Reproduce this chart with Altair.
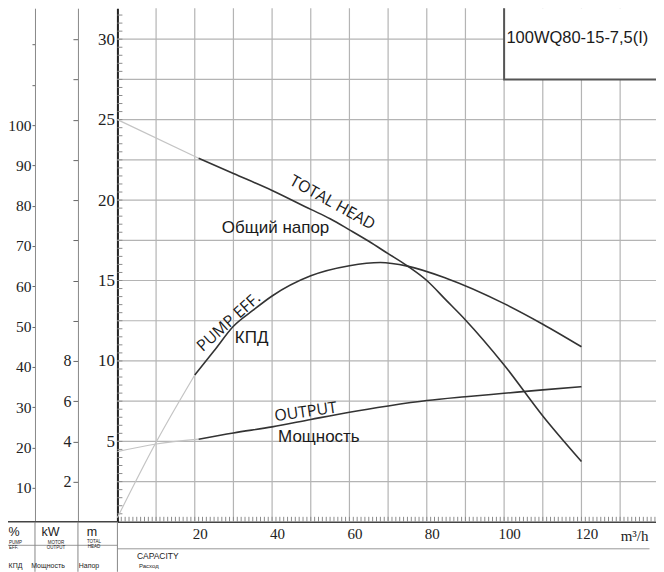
import altair as alt
import pandas as pd

# ---------------- data ----------------
# capacity Q (m3/h) and total head H (m)
head_q_faded = [0, 21]
head_m_faded = [25.0, 22.6]
head_q = [21, 30, 40, 50, 55, 60, 65, 70, 75, 80, 85, 90, 100, 110, 120]
head_m = [22.6, 21.65, 20.6, 19.42, 18.84, 18.15, 17.44, 16.67, 15.9, 15.0,
          13.78, 12.55, 9.75, 6.58, 3.75]

# pump efficiency (%)
eff_q_faded = [0, 10, 20]
eff_faded = [2.6, 21.3, 38.0]
eff_q = [20, 25, 30, 35, 40, 50, 60, 68, 75, 85, 100, 110, 120]
eff_pct = [38.0, 44.0, 50.1, 54.0, 57.6, 62.6, 65.1, 65.9, 65.0, 62.0, 55.7, 50.6, 45.0]

# motor output (kW)
out_q_faded = [0, 10, 21]
out_faded = [3.49, 3.87, 4.11]
out_q = [21, 30, 40, 50, 60, 70, 80, 90, 100, 110, 120]
out_kw = [4.11, 4.42, 4.72, 5.09, 5.45, 5.76, 6.03, 6.22, 6.39, 6.56, 6.72]

# ticks, grid and tick labels
x_grid_values = [10, 20, 30, 40, 50, 60, 70, 80, 90, 100, 110, 120, 130]
x_label_values = [20, 40, 60, 80, 100, 120]
x_minor_values = list(range(1, 140))
unit_label = "m³/h"
m_grid_values = [2.5, 5, 7.5, 10, 12.5, 15, 17.5, 20, 22.5, 25, 27.5, 30]
m_label_values = [5, 10, 15, 20, 25, 30]
m_minor_values = [0.5 * i for i in range(1, 64)]
pct_tick_values = [10, 20, 30, 40, 50, 60, 70, 80, 90, 100, 110, 120]
pct_label_max = 100
kw_tick_values = [2, 4, 6, 8, 10, 12, 14, 16, 18, 20, 22, 24]
kw_label_max = 8

# curve labels
eng_text = ["TOTAL HEAD", "PUMP EFF.", "OUTPUT"]
eng_q = [55.6, 28.8, 48.7]
eng_m = [19.84, 12.42, 6.83]
eng_angle = [29, 318, 352]

rus_text = ["Общий напор", "КПД", "Мощность"]
rus_q = [40.9, 34.7, 52.1]
rus_m = [18.24, 11.4, 5.28]

model_text = ["100WQ80-15-7,5(I)"]
model_q = [100.6]
model_m = [30.1]

box_q = [100, 150]
box_m = [27.5, 40]

# ---------------- geometry ----------------
W, H = 539, 514
Q_MAX = W / 3.87
M_MAX = H / 16.1
K_MAX = 0.8 * M_MAX
P_MIN, P_MAX = 1.56, 129.0
LEFT = 109.5

serif = "Liberation Serif"
sans = "Liberation Sans"
GRID = "#b4b4b4"
TICK = "#8c8c8c"

xs = alt.Scale(domain=[0, Q_MAX], nice=False, zero=False)


def mscale():
    return alt.Scale(domain=[0, M_MAX], nice=False, zero=False)


ps = alt.Scale(domain=[P_MIN, P_MAX], nice=False, zero=False)
ks = alt.Scale(domain=[0, K_MAX], nice=False, zero=False)


def line_df(qf, vf, qs, vs):
    return pd.DataFrame({
        "q": qf + qs,
        "v": vf + vs,
        "part": ["faded"] * len(qf) + ["solid"] * len(qs),
    })


part_color = alt.Color("part:N", scale=alt.Scale(domain=["faded", "solid"],
                                                 range=["#c4c4c4", "#333333"]), legend=None)
part_width = alt.StrokeWidth("part:N", scale=alt.Scale(domain=["faded", "solid"],
                                                       range=[1.2, 1.6]), legend=None)

# ---------------- axes ----------------
x_main = alt.Axis(orient="bottom", values=x_label_values,
                  grid=False, ticks=False, domain=True, domainColor="#444",
                  domainWidth=1.5, labelFont=serif, labelFontSize=15,
                  labelColor="#222", labelPadding=5, labelOffset=5,
                  labelOverlap=False, labelFlush=False, title=None)
y_main = alt.Axis(orient="left", values=m_label_values,
                  grid=False, ticks=False, domain=True, domainColor="#222", domainWidth=2,
                  labelFont=serif, labelFontSize=17, labelColor="#222",
                  labelPadding=3, labelOverlap=False, title=None)
pct_axis = alt.Axis(orient="left", offset=LEFT - 27, values=pct_tick_values,
                    labelExpr=f"datum.value <= {pct_label_max} ? datum.label : ''",
                    tickSize=3, tickColor="#666", domainColor="#888",
                    labelFont=serif, labelFontSize=15.5, labelColor="#222",
                    labelPadding=1, grid=False, title=None)
kw_axis = alt.Axis(orient="left", offset=LEFT - 70, values=kw_tick_values,
                   labelExpr=f"datum.value <= {kw_label_max} ? datum.label : ''",
                   tickSize=5, tickColor="#666", domainColor="#888",
                   labelFont=serif, labelFontSize=16, labelColor="#222",
                   labelPadding=2, grid=False, title=None)

# ---------------- grid and minor ticks ----------------
vgrid = alt.Chart(pd.DataFrame({"q": x_grid_values})).mark_rule(
    color=GRID, strokeWidth=1.2).encode(
    x=alt.X("q:Q", scale=xs, axis=None), y=alt.value(0), y2=alt.value(H))
hgrid = alt.Chart(pd.DataFrame({"m": m_grid_values})).mark_rule(
    color=GRID, strokeWidth=1.2).encode(
    y=alt.Y("m:Q", scale=mscale(), axis=None), x=alt.value(0), x2=alt.value(W))
xticks = alt.Chart(pd.DataFrame({"q": x_minor_values})).mark_rule(
    color=TICK, strokeWidth=1).encode(
    x=alt.X("q:Q", scale=xs, axis=None), y=alt.value(H - 5), y2=alt.value(H))
yticks = alt.Chart(pd.DataFrame({"m": m_minor_values})).mark_rule(
    color=TICK, strokeWidth=1).encode(
    y=alt.Y("m:Q", scale=mscale(), axis=None), x=alt.value(0), x2=alt.value(5))

# ---------------- layers ----------------
box = alt.Chart(pd.DataFrame({"q1": [box_q[0]], "q2": [box_q[1]],
                              "m1": [box_m[0]], "m2": [box_m[1]]})).mark_rect(
    fill="white", stroke="#555", strokeWidth=2, clip=True).encode(
    x=alt.X("q1:Q", scale=xs, axis=None), x2="q2:Q",
    y=alt.Y("m1:Q", scale=mscale(), axis=None), y2="m2:Q")

head = alt.Chart(line_df(head_q_faded, head_m_faded, head_q, head_m)).mark_line(
    interpolate="monotone").encode(
    x=alt.X("q:Q", scale=xs, axis=x_main),
    y=alt.Y("v:Q", scale=mscale(), axis=y_main),
    color=part_color, strokeWidth=part_width, detail="part:N")

eff = alt.Chart(line_df(eff_q_faded, eff_faded, eff_q, eff_pct)).mark_line(
    interpolate="monotone").encode(
    x=alt.X("q:Q", scale=xs, axis=None),
    y=alt.Y("v:Q", scale=ps, axis=pct_axis),
    color=part_color, strokeWidth=part_width, detail="part:N")

out = alt.Chart(line_df(out_q_faded, out_faded, out_q, out_kw)).mark_line(
    interpolate="monotone").encode(
    x=alt.X("q:Q", scale=xs, axis=None),
    y=alt.Y("v:Q", scale=ks, axis=kw_axis),
    color=part_color, strokeWidth=part_width, detail="part:N")

eng = alt.Chart(pd.DataFrame({"t": eng_text, "q": eng_q, "m": eng_m, "a": eng_angle})).mark_text(
    font="Open Sans", fontSize=16, color="#1a1a1a", align="center", baseline="middle").encode(
    x=alt.X("q:Q", scale=xs, axis=None),
    y=alt.Y("m:Q", scale=mscale(), axis=None),
    text="t:N", angle=alt.Angle("a:Q", scale=None))

rus = alt.Chart(pd.DataFrame({"t": rus_text, "q": rus_q, "m": rus_m})).mark_text(
    font=sans, fontSize=17, color="#1a1a1a", align="center", baseline="middle").encode(
    x=alt.X("q:Q", scale=xs, axis=None),
    y=alt.Y("m:Q", scale=mscale(), axis=None),
    text="t:N")

model = alt.Chart(pd.DataFrame({"t": model_text, "q": model_q, "m": model_m})).mark_text(
    font=sans, fontSize=16.5, color="#1a1a1a", align="left", baseline="middle").encode(
    x=alt.X("q:Q", scale=xs, axis=None),
    y=alt.Y("m:Q", scale=mscale(), axis=None),
    text="t:N")

# ---------------- footer decoration (pixel positions, page coords) ----------------
one = pd.DataFrame({"k": [0]})


def px(x):
    return x - 117.5


def py(y):
    return y - 8


def hline(x1, x2, y, color="#888", w=1.0):
    return alt.Chart(one).mark_rule(color=color, strokeWidth=w).encode(
        x=alt.value(px(x1)), x2=alt.value(px(x2)), y=alt.value(py(y)))


def vline(x, y1, y2, color="#888", w=1.0):
    return alt.Chart(one).mark_rule(color=color, strokeWidth=w).encode(
        x=alt.value(px(x)), y=alt.value(py(y1)), y2=alt.value(py(y2)))


def label(txt, x, y, size, align="center", font=sans, color="#222"):
    return alt.Chart(one).mark_text(text=txt, font=font, fontSize=size, align=align,
                                    baseline="middle", color=color).encode(
        x=alt.value(px(x)), y=alt.value(py(y)))


footer = [
    hline(8, 117.5, 522, "#444", 1.5),
    hline(8, 117.5, 545.5, "#999", 1),
    hline(117.5, 650, 549, "#999", 1),
    vline(35, 522, 572), vline(78, 522, 572), vline(117.5, 522, 572),
    label("%", 14, 532, 12.5), label("kW", 50.5, 532, 12.5), label("m", 92, 532, 12.5),
    label("PUMP", 9, 543, 4.5, align="left"), label("EFF.", 9, 548, 4.5, align="left"),
    label("MOTOR", 56, 543, 4.5), label("OUTPUT", 56, 548, 4.5),
    label("TOTAL", 94, 542.5, 4.5), label("HEAD", 94, 547.5, 4.5),
    label("КПД", 15.5, 566.5, 7), label("Мощность", 48, 566.5, 7),
    label("Напор", 89, 566.5, 7),
    label("CAPACITY", 137, 556, 8.5, align="left"),
    label("Расход", 139, 566, 6, align="left"),
    label(unit_label, 635, 536.5, 15, font=serif),
]

chart = alt.layer(vgrid, hgrid, xticks, yticks, box, head, eff, out, eng, rus, model,
                  *footer).properties(
    width=W, height=H,
    padding={"left": LEFT, "top": 0, "right": 0, "bottom": 50},
    autosize=alt.AutoSizeParams(type="none"),
    background="white",
).resolve_scale(y="independent").resolve_axis(
    x="independent", y="independent").configure_view(stroke=None)

chart.save("out.html", embed_options={"renderer": "svg", "actions": False})
